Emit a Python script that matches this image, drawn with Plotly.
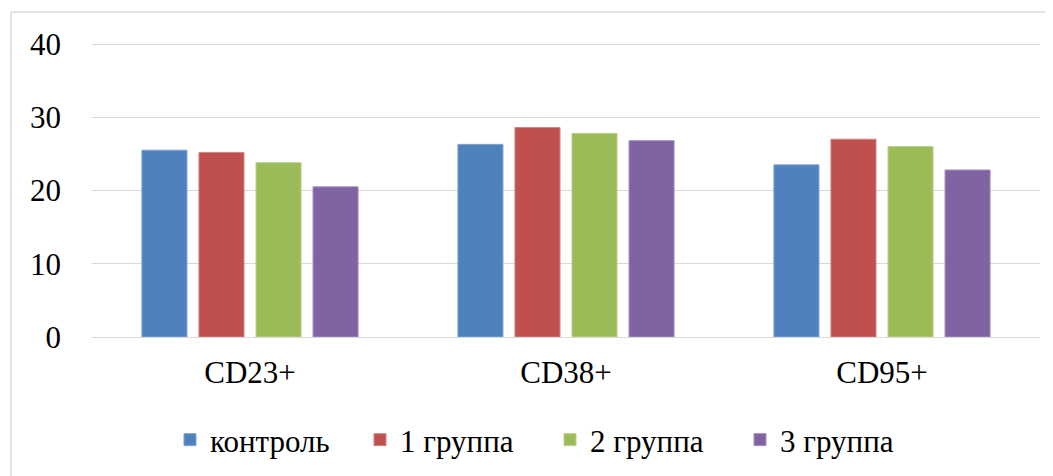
import plotly.graph_objects as go

categories = ["CD23+", "CD38+", "CD95+"]
series_names = ["контроль", "1 группа", "2 группа", "3 группа"]
control = [25.5, 26.3, 23.5]
group1 = [25.2, 28.6, 27.0]
group2 = [23.8, 27.8, 26.0]
group3 = [20.5, 26.8, 22.8]
tick_vals = [0, 10, 20, 30, 40]

colors = ["#4F81BD", "#C0504D", "#9BBB59", "#8064A2"]
edge_colors = ["#7FA3D3", "#D48583", "#BBD28E", "#A58FC0"]

# the page body has an 8px margin, so the figure is drawn 8px in and down
OFF = 8
W, H = 1053 - OFF, 476 - OFF
L, R, T, B = 92 - OFF, 13, 28, 139
ymax = (H - T - B) / (293 / 40)

fig = go.Figure()
for name, vals, c, ec in zip(series_names, [control, group1, group2, group3], colors, edge_colors):
    fig.add_trace(go.Bar(
        x=categories, y=vals, name=name,
        marker=dict(color=c, line=dict(color=ec, width=1)),
    ))

font_family = "Liberation Serif, Times New Roman, Times, serif"

pw = W - L - R
ph = H - T - B
bottom_px = H - B  # figure coordinate of plot bottom

fig.update_layout(
    width=W, height=H,
    margin=dict(l=L, r=R, t=T, b=B, pad=0, autoexpand=False),
    paper_bgcolor="white", plot_bgcolor="white",
    barmode="group", bargap=0.278, bargroupgap=0.21,
    font=dict(family=font_family, size=31, color="black"),
    showlegend=True,
    legend=dict(
        orientation="h", x=(170 - OFF - L) / pw, xanchor="left",
        y=(bottom_px - (440 - OFF)) / ph, yanchor="middle",
        font=dict(family=font_family, size=31, color="black"),
        itemwidth=30, tracegroupgap=0, itemclick=False,
        entrywidth=145,
    ),
    xaxis=dict(
        showgrid=False, showline=False, ticks="", zeroline=False,
        tickfont=dict(family=font_family, size=31, color="black"),
        ticklabelstandoff=14,
    ),
    yaxis=dict(
        range=[0, ymax], tickvals=tick_vals,
        showgrid=True, gridcolor="#D9D9D9", gridwidth=1.4,
        zeroline=True, zerolinecolor="#D9D9D9", zerolinewidth=1.4,
        showline=False, ticks="",
        tickfont=dict(family=font_family, size=31, color="black"),
        ticklabelstandoff=30,
    ),
    shapes=[
        dict(type="line", xref="paper", yref="paper",
             x0=(11 - OFF - L) / pw, x1=(W + 5 - L) / pw,
             y0=(bottom_px - (12 - OFF)) / ph, y1=(bottom_px - (12 - OFF)) / ph,
             line=dict(color="#D9D9D9", width=1.5)),
        dict(type="line", xref="paper", yref="paper",
             x0=(11 - OFF - L) / pw, x1=(11 - OFF - L) / pw,
             y0=(bottom_px - (12 - OFF)) / ph, y1=(bottom_px - H - 5) / ph,
             line=dict(color="#D9D9D9", width=1.5)),
    ],
)

fig.write_html("out.html")
